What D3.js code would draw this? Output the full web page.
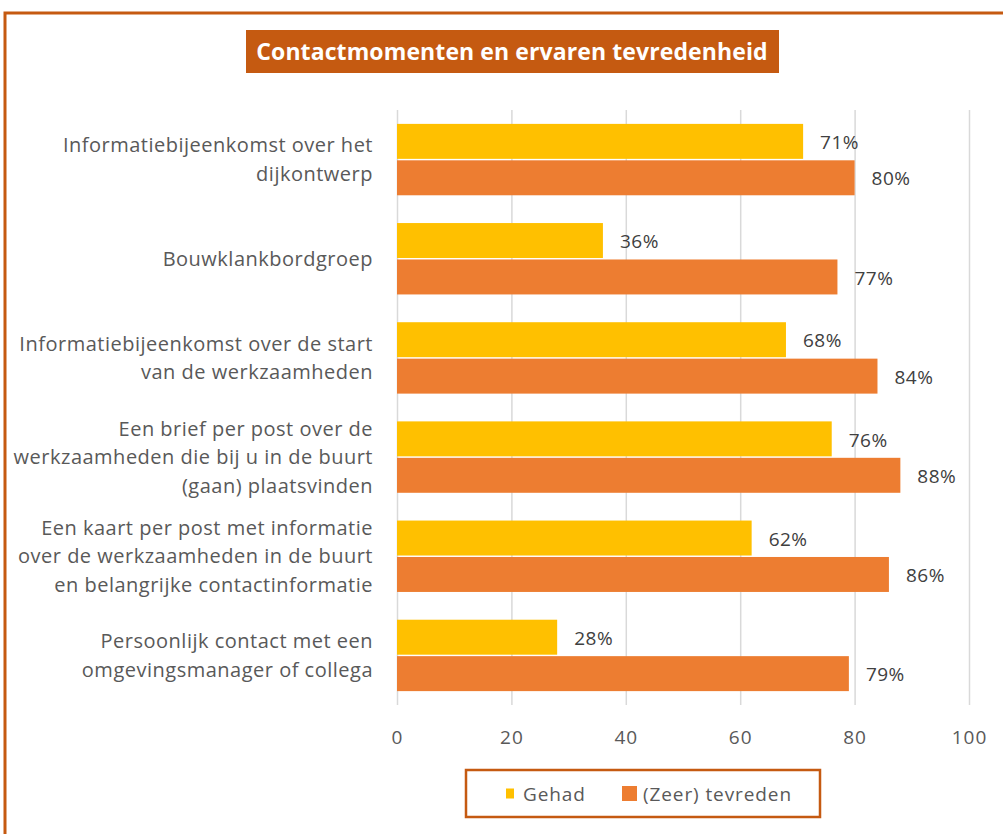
<!DOCTYPE html>
<html>
<head>
<meta charset="utf-8">
<script src="https://cdn.jsdelivr.net/npm/d3@7"></script>
<style>
  body { margin: 0; background: #fff; }
  svg { display: block; font-family: "Open Sans", sans-serif; }
</style>
</head>
<body>
<svg id="chart" width="1003" height="834"></svg>
<script>
// categories, each with its wrapped lines
const categories = [
  ["Informatiebijeenkomst over het", "dijkontwerp"],
  ["Bouwklankbordgroep"],
  ["Informatiebijeenkomst over de start", "van de werkzaamheden"],
  ["Een brief per post over de", "werkzaamheden die bij u in de buurt", "(gaan) plaatsvinden"],
  ["Een kaart per post met informatie", "over de werkzaamheden in de buurt", "en belangrijke contactinformatie"],
  ["Persoonlijk contact met een", "omgevingsmanager of collega"]
];
const seriesNames = ["Gehad", "(Zeer) tevreden"];
const gehad = [71, 36, 68, 76, 62, 28];
const tevreden = [80, 77, 84, 88, 86, 79];
const xTicks = [0, 20, 40, 60, 80, 100];
const colors = ["#ffc000", "#ed7d31"];

const svg = d3.select('#chart');
const dark = "#c55a11";

// outer border (runs off the right and bottom like in the source)
svg.append('rect')
  .attr('x', 5).attr('y', 13)
  .attr('width', 1010).attr('height', 840)
  .attr('fill', 'none')
  .attr('stroke', dark)
  .attr('stroke-width', 3);

// title box
svg.append('rect')
  .attr('x', 246).attr('y', 30)
  .attr('width', 533).attr('height', 43)
  .attr('fill', dark);
svg.append('text')
  .attr('x', 512).attr('y', 60)
  .attr('text-anchor', 'middle')
  .attr('fill', '#fff')
  .style('font-size', '23px')
  .style('font-weight', 'bold')
  .style('letter-spacing', '0.1px')
  .text('Contactmomenten en ervaren tevredenheid');

const plotLeft = 397, plotRight = 969, plotTop = 110, plotBottom = 705;

let x = d3.scaleLinear().domain([0, 100]).range([plotLeft, plotRight]);
let y = d3.scaleBand()
  .domain(d3.range(categories.length))
  .range([plotTop, plotBottom])
  .paddingInner(0.28)
  .paddingOuter(0.14);
let ySub = d3.scaleBand()
  .domain([0, 1])
  .range([0, y.bandwidth()])
  .paddingInner(0.04);

// gridlines
let grid = svg.append('g')
  .attr('transform', `translate(0,${plotBottom})`)
  .call(d3.axisBottom(x).tickValues(xTicks).tickSize(-(plotBottom - plotTop)).tickFormat(''));
grid.select('.domain').remove();
grid.selectAll('line').attr('stroke', '#d9d9d9').attr('stroke-width', 1.5);

// tick labels
let xAxis = svg.append('g')
  .attr('transform', `translate(0,${plotBottom + 22})`)
  .call(d3.axisBottom(x).tickValues(xTicks).tickSize(0));
xAxis.select('.domain').remove();
xAxis.selectAll('text')
  .attr('fill', '#595959')
  .style('font-size', '19px')
  .style('letter-spacing', '1px')
  .style('font-family', '"Open Sans", sans-serif');

// bars
const series = [gehad, tevreden];
series.forEach((vals, s) => {
  let g = svg.append('g');
  g.selectAll('rect')
    .data(vals)
    .join('rect')
    .attr('x', x(0))
    .attr('y', (d, i) => y(i) + ySub(s))
    .attr('width', d => x(d) - x(0))
    .attr('height', ySub.bandwidth())
    .attr('fill', colors[s]);

  g.selectAll('text')
    .data(vals)
    .join('text')
    .attr('x', d => x(d) + 17)
    .attr('y', (d, i) => y(i) + ySub(s) + ySub.bandwidth() / 2 + 1)
    .attr('dy', '0.35em')
    .attr('fill', '#404040')
    .style('font-size', '19px')
    .style('letter-spacing', '0.5px')
    .text(d => d + '%');
});

// category labels
const lineH = 28.5;
categories.forEach((lines, i) => {
  let cy = y(i) + y.bandwidth() / 2;
  let t = svg.append('text')
    .attr('text-anchor', 'end')
    .attr('fill', '#595959')
    .style('font-size', '20px')
    .style('letter-spacing', '0.5px');
  lines.forEach((ln, j) => {
    t.append('tspan')
      .attr('x', 373)
      .attr('y', cy + (j - (lines.length - 1) / 2) * lineH)
      .attr('dy', '0.35em')
      .text(ln);
  });
});

// legend
svg.append('rect')
  .attr('x', 466).attr('y', 770)
  .attr('width', 354).attr('height', 47)
  .attr('fill', '#fff')
  .attr('stroke', dark)
  .attr('stroke-width', 2.5);

const legendItems = [
  { name: seriesNames[0], color: colors[0], sx: 506, sw: 8, sh: 10, tx: 523 },
  { name: seriesNames[1], color: colors[1], sx: 622, sw: 15, sh: 15, tx: 643 }
];
legendItems.forEach(d => {
  svg.append('rect')
    .attr('x', d.sx).attr('y', 793.5 - d.sh / 2)
    .attr('width', d.sw).attr('height', d.sh)
    .attr('fill', d.color);
  svg.append('text')
    .attr('x', d.tx).attr('y', 794)
    .attr('dy', '0.35em')
    .attr('fill', '#595959')
    .style('font-size', '19px')
    .style('letter-spacing', '0.9px')
    .text(d.name);
});
</script>
</body>
</html>
